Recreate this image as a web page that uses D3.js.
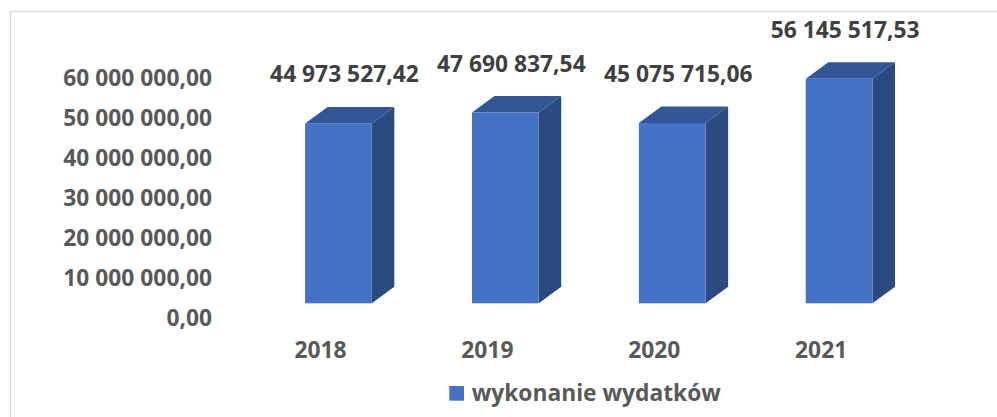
<!DOCTYPE html>
<html>
<head>
<meta charset="utf-8">
<script src="https://cdn.jsdelivr.net/npm/d3@7"></script>
<style>
  body { margin: 0; background: #fff; }
  svg { display: block; font-family: "Open Sans", "DejaVu Sans", sans-serif; font-weight: bold; }
</style>
</head>
<body>
<div id="chart"></div>
<script>
// data
const years = ['2018', '2019', '2020', '2021'];
const spending = [44973527.42, 47690837.54, 45075715.06, 56145517.53];
const yTicks = [0, 10000000, 20000000, 30000000, 40000000, 50000000, 60000000];
const seriesName = 'wykonanie wydatków';

const width = 997, height = 417;
const depthX = 22.5, depthY = 16.5;
const fontSize = '22.8px';

const pl = d3.formatLocale({ decimal: ',', thousands: ' ', grouping: [3], currency: ['', ''] });
const fmt = pl.format(',.2f');

const svg = d3.select('#chart')
  .append('svg')
  .attr('width', width)
  .attr('height', height);

// chart frame
svg.append('rect')
  .attr('x', 10.5).attr('y', 11.5)
  .attr('width', 1000).attr('height', 500)
  .attr('fill', '#fff')
  .attr('stroke', '#d9d9d9')
  .attr('stroke-width', 1.5);

const x = d3.scaleBand()
  .domain(years)
  .range([255, 922.6])
  .paddingInner(0.6)
  .paddingOuter(0.3);

const y = d3.scaleLinear()
  .domain([0, 60000000])
  .range([303.3, 63.3]);

// y axis (labels sit a bit lower than the bar floor, like the 3D back wall)
const yAxis = svg.append('g')
  .attr('transform', 'translate(212,15)')
  .call(d3.axisLeft(y).tickValues(yTicks).tickFormat(fmt).tickSize(0).tickPadding(0));
yAxis.select('.domain').remove();
yAxis.selectAll('text')
  .attr('fill', '#595959')
  .style('font-size', fontSize)
  .style('font-family', '"Open Sans", sans-serif')
  .style('font-weight', 'bold');

// x axis
const xAxis = svg.append('g')
  .attr('transform', 'translate(-18,350.5)')
  .call(d3.axisBottom(x).tickSize(0).tickPadding(0));
xAxis.select('.domain').remove();
xAxis.selectAll('text')
  .attr('y', 0)
  .attr('dy', '0.35em')
  .attr('fill', '#595959')
  .style('font-size', fontSize)
  .style('font-family', '"Open Sans", sans-serif')
  .style('font-weight', 'bold');

// 3D columns
const bars = svg.append('g').selectAll('g')
  .data(years.map((d, i) => ({ year: d, value: spending[i] })))
  .join('g');

bars.append('polygon')
  .attr('fill', '#2b4a80')
  .attr('points', d => {
    const x1 = x(d.year) + x.bandwidth(), yt = y(d.value), yb = y(0);
    return [[x1, yt], [x1 + depthX, yt - depthY], [x1 + depthX, yb - depthY], [x1, yb]].join(' ');
  });

bars.append('polygon')
  .attr('fill', '#325696')
  .attr('points', d => {
    const x0 = x(d.year), x1 = x0 + x.bandwidth(), yt = y(d.value);
    return [[x0, yt], [x0 + depthX, yt - depthY], [x1 + depthX, yt - depthY], [x1, yt]].join(' ');
  });

bars.append('rect')
  .attr('fill', '#4472c4')
  .attr('x', d => x(d.year))
  .attr('y', d => y(d.value))
  .attr('width', x.bandwidth())
  .attr('height', d => y(0) - y(d.value));

// data labels
bars.append('text')
  .attr('x', d => x(d.year) + x.bandwidth() / 2 + 6)
  .attr('y', d => y(d.value) - 49)
  .attr('dy', '0.35em')
  .attr('text-anchor', 'middle')
  .attr('fill', '#404040')
  .style('font-size', fontSize)
  .text(d => fmt(d.value));

// legend
const legend = svg.append('g').attr('transform', 'translate(449.3,386)');
legend.append('rect')
  .attr('width', 14.7).attr('height', 14.7)
  .attr('fill', '#4472c4');
legend.append('text')
  .attr('x', 22.4).attr('y', 7.4)
  .attr('dy', '0.35em')
  .attr('fill', '#595959')
  .style('font-size', fontSize)
  .text(seriesName);
</script>
</body>
</html>
